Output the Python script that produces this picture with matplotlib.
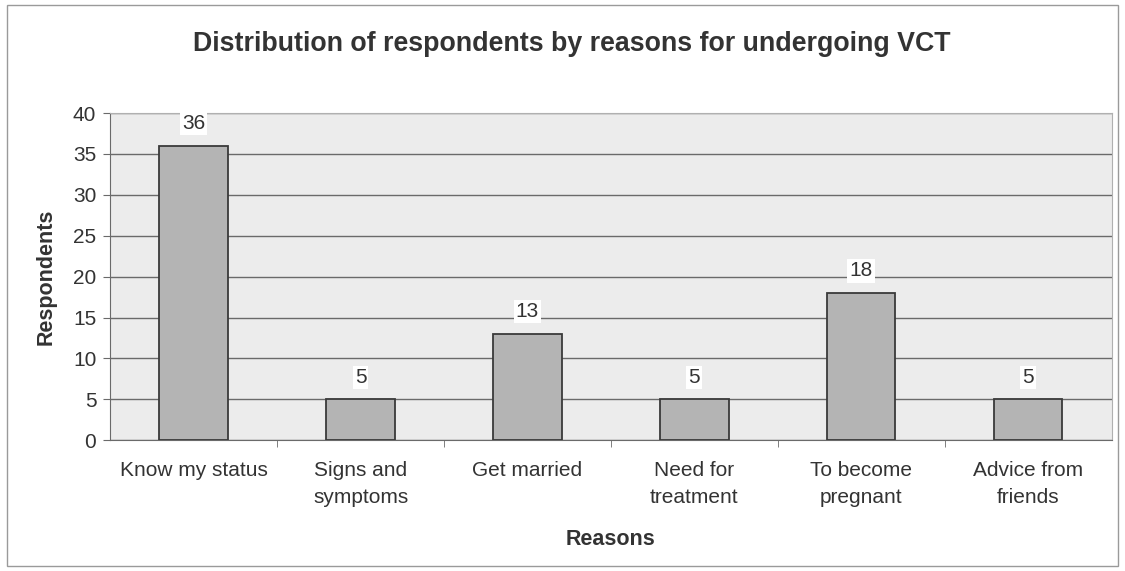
import matplotlib
matplotlib.use("Agg")
from matplotlib import pyplot as plt
from matplotlib.patches import Rectangle
import numpy as np

plt.rcParams['font.family'] = ['Liberation Sans', 'DejaVu Sans']

# reasons given for undergoing VCT
reasons = ["Know my status", "Signs and\nsymptoms", "Get married",
           "Need for\ntreatment", "To become\npregnant", "Advice from\nfriends"]
respondents = [36, 5, 13, 5, 18, 5]

fig = plt.figure(figsize=(11.25, 5.71), dpi=100)
fig.patch.set_facecolor("white")
fig.patches.append(Rectangle((0.006, 0.009), 0.988, 0.982, transform=fig.transFigure,
                             fill=False, edgecolor="#9a9a9a", linewidth=1.0))

ax = fig.add_axes([0.098, 0.229, 0.890, 0.573])
ax.set_facecolor("#ececec")

x = np.arange(len(reasons))
bars = ax.bar(x, respondents, width=0.41, color="#b4b4b4",
              edgecolor="#3a3a3a", linewidth=1.3, zorder=3)

for b, v in zip(bars, respondents):
    ax.text(b.get_x() + b.get_width() / 2, v + 2.7, str(v), ha="center", va="center",
            fontsize=15, color="#333333", zorder=4,
            bbox=dict(boxstyle="square,pad=0.1", facecolor="white", edgecolor="none"))

ax.set_xlim(-0.5, len(reasons) - 0.5)
ax.set_ylim(0, 40)
ax.set_yticks(range(0, 41, 5))
ax.yaxis.grid(True, color="#6a6a6a", linewidth=1.0, zorder=1)
ax.set_axisbelow(True)

ax.set_xticks(x)
ax.set_xticklabels(reasons, fontsize=15, color="#333333", linespacing=1.5)
ax.set_xticks(np.arange(0.5, len(reasons) - 0.5), minor=True)
ax.tick_params(axis="x", which="major", length=0, pad=15)
ax.tick_params(axis="x", which="minor", length=5, color="#6a6a6a", direction="out")
ax.tick_params(axis="y", labelsize=15, labelcolor="#333333", length=5,
               color="#6a6a6a", direction="out", pad=5)

for side in ["top", "right"]:
    ax.spines[side].set_color("#b0b0b0")
for side in ["left", "bottom"]:
    ax.spines[side].set_color("#6a6a6a")

ax.set_xlabel("Reasons", fontsize=15.5, fontweight="bold", color="#333333", labelpad=16)
ax.set_ylabel("Respondents", fontsize=15.5, fontweight="bold", color="#333333", labelpad=12)
fig.suptitle("Distribution of respondents by reasons for undergoing VCT",
             x=0.508, y=0.945, fontsize=19.3, fontweight="bold", color="#333333")

fig.savefig("out.png", dpi=100)
